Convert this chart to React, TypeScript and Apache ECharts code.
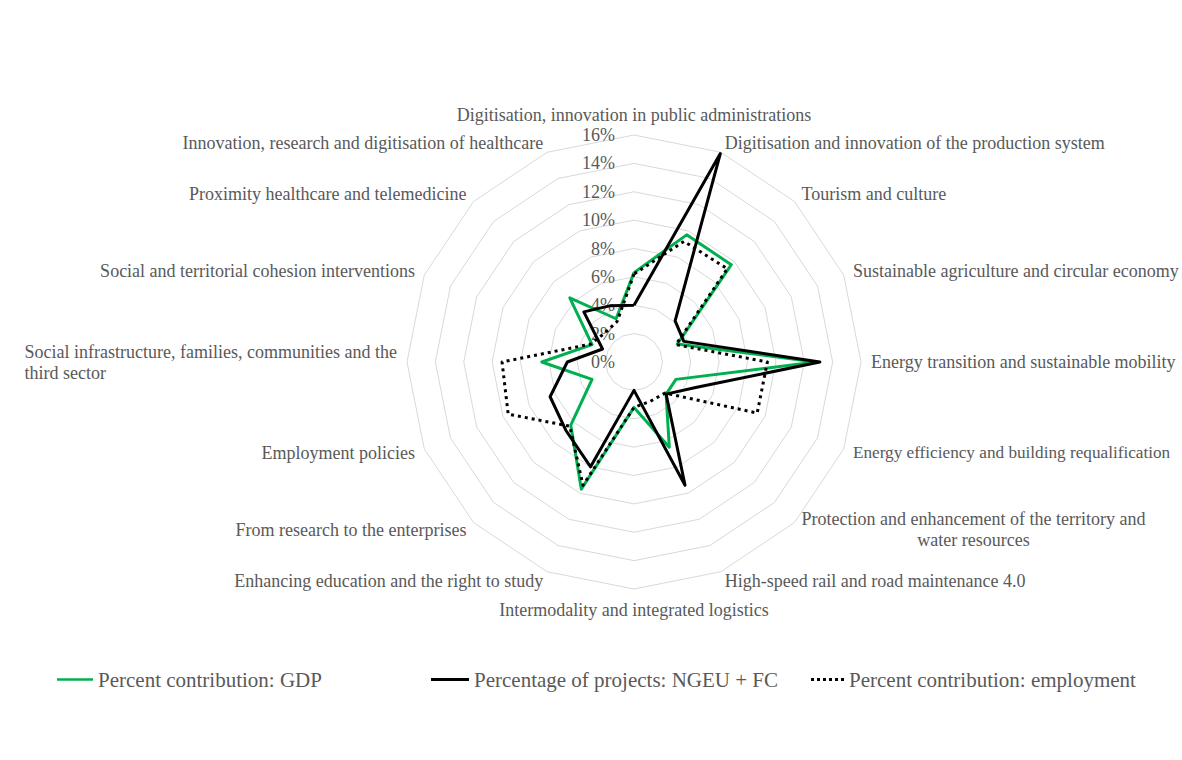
import React, { useEffect, useRef } from 'react';
import * as echarts from 'echarts';

// Indicators, clockwise from the top
const INDICATORS: string[] = [
  'Digitisation, innovation in public administrations',
  'Digitisation and innovation of the production system',
  'Tourism and culture',
  'Sustainable agriculture and circular economy',
  'Energy transition and sustainable mobility',
  'Energy efficiency and building requalification',
  'Protection and enhancement of the territory and\nwater resources',
  'High-speed rail and road maintenance 4.0',
  'Intermodality and integrated logistics',
  'Enhancing education and the right to study',
  'From research to the enterprises',
  'Employment policies',
  'Social infrastructure, families, communities and the\nthird sector',
  'Social and territorial cohesion interventions',
  'Proximity healthcare and telemedicine',
  'Innovation, research and digitisation of healthcare',
];

const SERIES_NAMES: string[] = [
  'Percent contribution: GDP',
  'Percentage of projects: NGEU + FC',
  'Percent contribution: employment',
];

// values in %, same order as INDICATORS
const GDP: number[] = [6.3, 9.7, 9.7, 3.3, 12.8, 3.2, 3.2, 6.5, 3.2, 9.7, 6.3, 3.2, 6.5, 3.2, 6.4, 3.3];
const NGEU_FC: number[] = [4.0, 15.9, 4.1, 3.8, 13.1, 4.7, 3.2, 9.4, 2.0, 8.0, 6.8, 6.4, 4.7, 2.4, 5.0, 4.3];
const EMPLOYMENT: number[] = [6.2, 9.2, 9.3, 3.2, 9.4, 9.4, 3.1, 3.0, 3.2, 9.4, 6.4, 9.6, 9.3, 3.3, 2.9, 3.1];

const AXIS_MIN = 0;
const AXIS_MAX = 16;
const SPLIT_NUMBER = 8;

const FONT = '"Liberation Serif", "Times New Roman", serif';
const TEXT_COLOR = '#595959';
const COLORS = ['#00B050', '#000000', '#000000'];

// rich-text style tag per label (line alignment / size)
const LABEL_TAG: Record<string, string> = {
  [INDICATORS[5]]: 's',
  [INDICATORS[6]]: 'c',
  [INDICATORS[12]]: 'l',
};

export default function App() {
  const ref = useRef<HTMLDivElement>(null);

  useEffect(() => {
    document.body.style.margin = '0';
    const chart = echarts.init(ref.current as HTMLDivElement, null, { renderer: 'svg' });

    // ECharts lays radar indicators counter-clockwise: reverse all but the first
    const order = [0];
    for (let i = INDICATORS.length - 1; i >= 1; i--) order.push(i);
    const reorder = (arr: number[]) => order.map((i) => arr[i]);

    const dotsIcon =
      'path://M0,0h3v3h-3z M6,0h3v3h-3z M12,0h3v3h-3z M18,0h3v3h-3z M24,0h3v3h-3z M30,0h3v3h-3z';
    const lineIcon = 'path://M0,0H40V3H0Z';

    const legendLeft = [52, 426, 806];
    const legendWidth = [36, 38, 33];
    const legendIcons = [lineIcon, lineIcon, dotsIcon];

    const baseText = { color: TEXT_COLOR, fontFamily: FONT, fontSize: 18, lineHeight: 21 };

    const option: any = {
      animation: false,
      backgroundColor: '#ffffff',
      radar: {
        center: [634, 362],
        radius: 227,
        startAngle: 90,
        shape: 'polygon',
        splitNumber: SPLIT_NUMBER,
        nameGap: 10,
        indicator: order.map((i, k) => {
          const ind: any = { name: INDICATORS[i], min: AXIS_MIN, max: AXIS_MAX };
          if (k === 0) ind.axisLabel = { show: true };
          return ind;
        }),
        axisName: {
          ...baseText,
          formatter: (name: string) => {
            const tag = LABEL_TAG[name];
            if (!tag) return name;
            return name
              .split('\n')
              .map((s) => `{${tag}|${s}}`)
              .join('\n');
          },
          rich: {
            l: { ...baseText, align: 'left' },
            c: { ...baseText, align: 'center' },
            s: { ...baseText, fontSize: 17.2 },
          },
        },
        splitLine: { lineStyle: { color: '#D9D9D9', width: 1 } },
        splitArea: { show: false },
        axisLine: { show: false },
        axisTick: { show: false },
        axisLabel: {
          show: false,
          formatter: '{value}%',
          color: TEXT_COLOR,
          fontFamily: FONT,
          fontSize: 18,
          margin: 19,
        },
      },
      legend: SERIES_NAMES.map((n, i) => ({
        data: [{ name: n, icon: legendIcons[i] }],
        left: legendLeft[i],
        top: 664,
        itemWidth: legendWidth[i],
        itemHeight: 3,
        selectedMode: false,
        itemStyle: { color: COLORS[i], borderWidth: 0 },
        textStyle: { color: TEXT_COLOR, fontFamily: FONT, fontSize: 21 },
      })),
      series: [
        {
          type: 'radar',
          name: SERIES_NAMES[0],
          symbol: 'none',
          color: COLORS[0],
          itemStyle: { color: COLORS[0] },
          lineStyle: { color: COLORS[0], width: 3 },
          data: [{ name: SERIES_NAMES[0], value: reorder(GDP) }],
        },
        {
          type: 'radar',
          name: SERIES_NAMES[1],
          symbol: 'none',
          color: COLORS[1],
          itemStyle: { color: COLORS[1] },
          lineStyle: { color: COLORS[1], width: 3 },
          data: [{ name: SERIES_NAMES[1], value: reorder(NGEU_FC) }],
        },
        {
          type: 'radar',
          name: SERIES_NAMES[2],
          symbol: 'none',
          color: COLORS[2],
          itemStyle: { color: COLORS[2] },
          lineStyle: { color: COLORS[2], width: 3, type: [3, 4] },
          data: [{ name: SERIES_NAMES[2], value: reorder(EMPLOYMENT) }],
        },
      ],
    };

    chart.setOption(option);
    return () => chart.dispose();
  }, []);

  return <div ref={ref} style={{ width: 1182, height: 760, background: '#fff' }} />;
}
